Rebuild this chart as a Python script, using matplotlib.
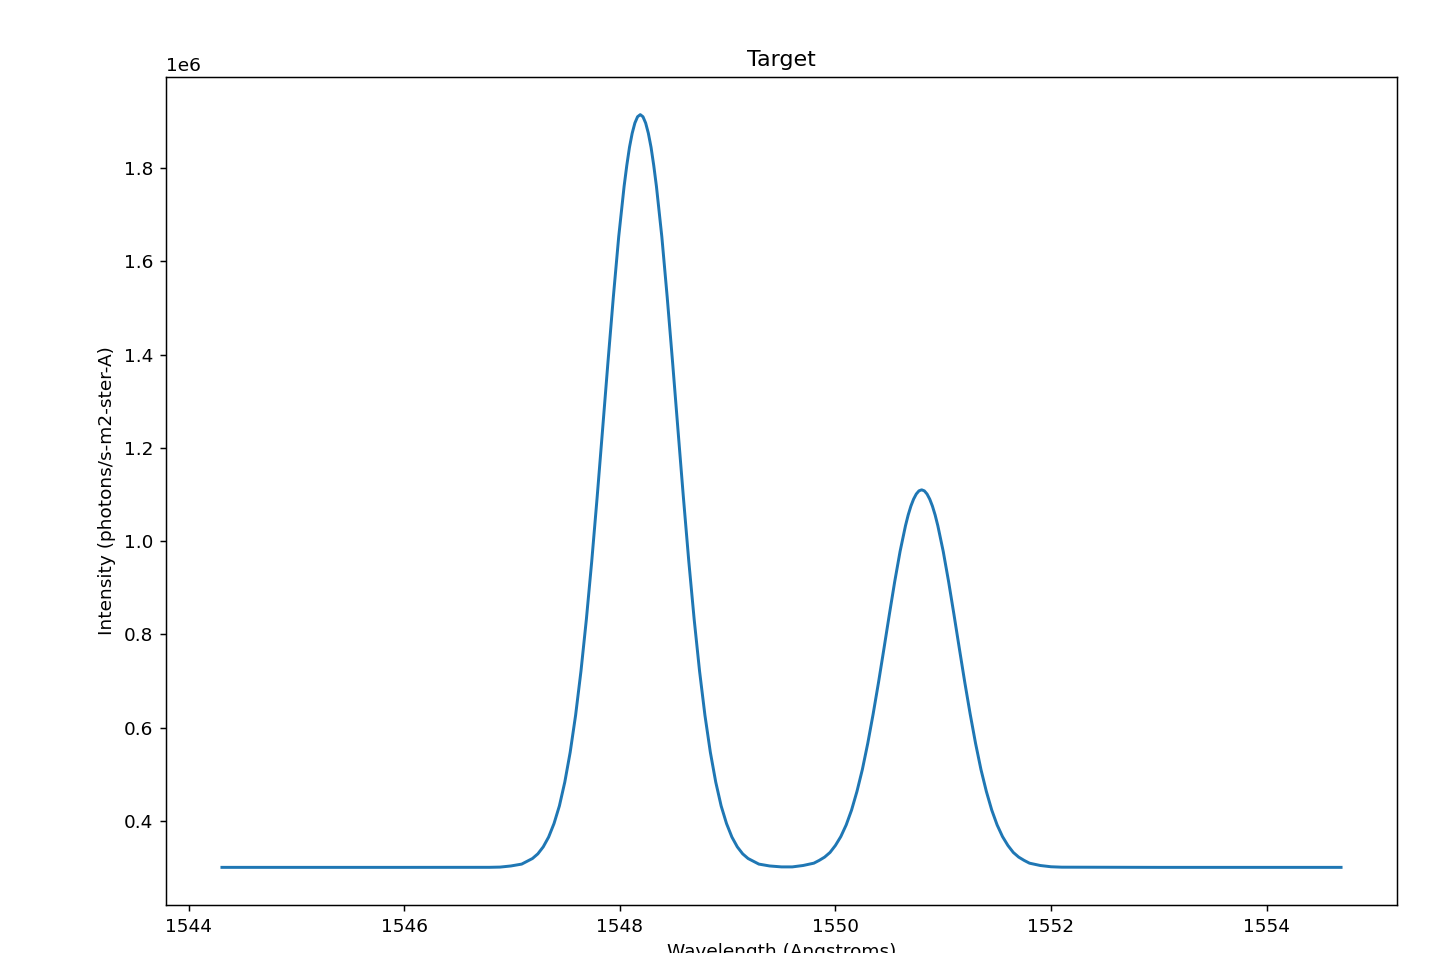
import matplotlib
matplotlib.use("Agg")
import matplotlib.pyplot as plt

# Wavelength samples (Angstroms)
wavelength = [
    1544.31, 1546.0, 1546.79, 1546.89,
    1546.99, 1547.09, 1547.19, 1547.24, 1547.29, 1547.34, 1547.39, 1547.44,
    1547.49, 1547.54, 1547.59, 1547.64, 1547.69, 1547.74, 1547.79, 1547.84,
    1547.89, 1547.94, 1547.99, 1548.04, 1548.065, 1548.09, 1548.115, 1548.14,
    1548.165, 1548.19, 1548.215, 1548.24, 1548.265, 1548.29, 1548.315,
    1548.34, 1548.39, 1548.44, 1548.49, 1548.54, 1548.59, 1548.64,
    1548.69, 1548.74, 1548.79, 1548.84, 1548.89, 1548.94, 1548.99, 1549.04,
    1549.09, 1549.14, 1549.19, 1549.29, 1549.39, 1549.50,
    1549.60, 1549.70, 1549.80, 1549.85, 1549.90, 1549.95, 1550.00, 1550.05,
    1550.10, 1550.15, 1550.20, 1550.25, 1550.30, 1550.35, 1550.40, 1550.45,
    1550.50, 1550.55, 1550.60, 1550.65, 1550.675, 1550.70, 1550.725, 1550.75,
    1550.775, 1550.80, 1550.825, 1550.85, 1550.875, 1550.90, 1550.925,
    1550.95, 1551.00, 1551.05, 1551.10, 1551.15, 1551.20, 1551.25,
    1551.30, 1551.35, 1551.40, 1551.45, 1551.50, 1551.55, 1551.60, 1551.65,
    1551.70, 1551.75, 1551.80, 1551.90, 1552.00, 1552.10,
    1553.0, 1554.69,
]

# Intensity (photons/s-m2-ster-A) in units of 1e6
intensity_e6 = [
    0.300, 0.300, 0.3001, 0.3006,
    0.303, 0.307, 0.319, 0.329, 0.344, 0.365, 0.394, 0.432,
    0.483, 0.547, 0.626, 0.721, 0.832, 0.957, 1.094, 1.238,
    1.383, 1.523, 1.653, 1.761, 1.806, 1.845, 1.875, 1.897,
    1.9105, 1.915, 1.9105, 1.897, 1.875, 1.845, 1.806,
    1.761, 1.653, 1.523, 1.383, 1.238, 1.094, 0.957,
    0.832, 0.721, 0.626, 0.547, 0.483, 0.432, 0.394, 0.365,
    0.344, 0.329, 0.319, 0.307, 0.303, 0.301,
    0.301, 0.304, 0.309, 0.315, 0.322, 0.332, 0.347, 0.366,
    0.391, 0.423, 0.463, 0.510, 0.566, 0.629, 0.697, 0.769,
    0.842, 0.913, 0.978, 1.033, 1.056, 1.075, 1.090, 1.101,
    1.1078, 1.110, 1.1078, 1.101, 1.090, 1.075, 1.056,
    1.033, 0.978, 0.913, 0.842, 0.769, 0.697, 0.629,
    0.566, 0.510, 0.463, 0.423, 0.391, 0.366, 0.347, 0.332,
    0.322, 0.315, 0.309, 0.304, 0.3013, 0.3004,
    0.300, 0.300,
]

intensity = [v * 1e6 for v in intensity_e6]

DPI = 133
fig = plt.figure(figsize=(1449 / DPI, 953 / DPI), dpi=DPI)
ax = fig.add_axes([166 / 1449, 1 - 905 / 953, (1397 - 166) / 1449, (905 - 77) / 953])
ax.plot(wavelength, intensity, color="#1f77b4", linewidth=1.6)
ax.set_title("Target")
ax.set_xlabel("Wavelength (Angstroms)")
ax.set_ylabel("Intensity (photons/s-m2-ster-A)")
ax.set_xticks([1544, 1546, 1548, 1550, 1552, 1554])

fig.savefig("out.png", dpi=DPI)
